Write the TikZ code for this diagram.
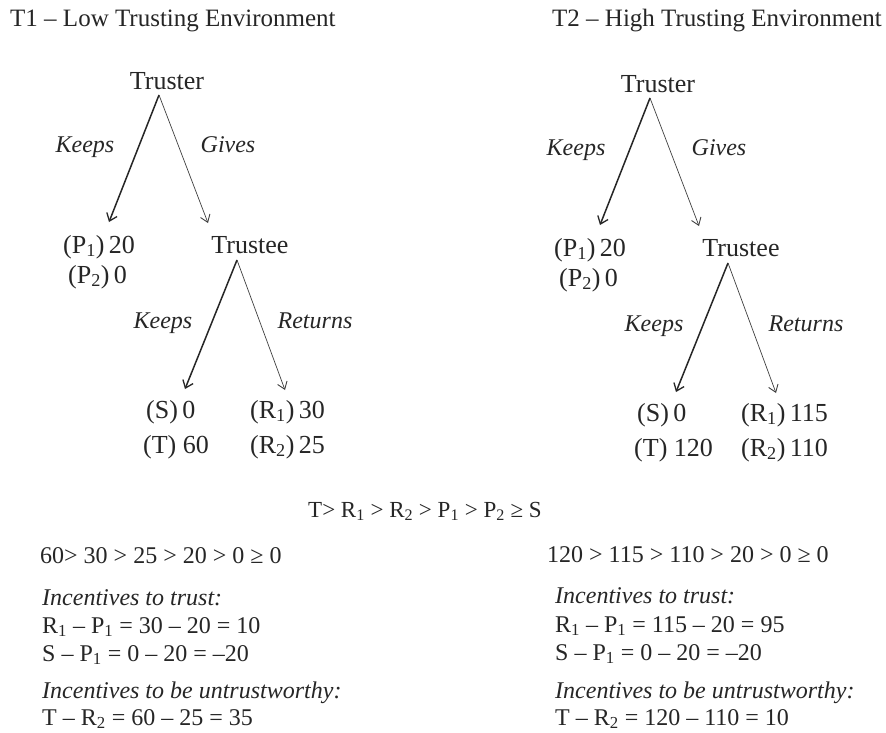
\documentclass[tikz,border=0pt]{standalone}
\usepackage{fontspec}
\setmainfont{Liberation Serif}
\usetikzlibrary{arrows.meta}

\newcommand\gamefont{\fontsize{24}{28}\selectfont}
\newcommand\treefont{\fontsize{26}{30}\selectfont}

\tikzset{
  lbl/.style = {inner sep=0pt, anchor=base, text=black!85, font=\treefont},
  pay/.style = {inner sep=0pt, anchor=base west, text=black!85, font=\gamefont},
  tpay/.style = {pay, font=\treefont},
  note/.style = {inner sep=0pt, anchor=base west, text=black!85, font=\gamefont\itshape},
  act/.style = {inner sep=0pt, anchor=base, text=black!85, font=\gamefont\itshape},
  keeparr/.style = {line width=1.5pt, black!85, -{Straight Barb[length=7pt,width=11pt,line width=1.3pt]}},
  givearr/.style = {line width=0.7pt, black!75, -{Straight Barb[length=7pt,width=10pt,line width=0.9pt]}}
}

\begin{document}
\begin{tikzpicture}[x=1pt, y=-1pt]
  \fill[white] (0,0) rectangle (886,732);
  \useasboundingbox (0,0) rectangle (886,732);

  % titles
  \node (titleL) [pay, font=\fontsize{25}{29}\selectfont] at (10,26) {T1 -- Low Trusting Environment};
  \node (titleR) [pay, font=\fontsize{25}{29}\selectfont] at (552,26) {T2 -- High Trusting Environment};

  % the two game trees
  \foreach \dx/\dy/\t/\pa/\pb/\sv/\tv/\ra/\rb in {0/0/L/20/0/0/60/30/25, 491/3/R/20/0/0/120/115/110} {
    \begin{scope}[shift={(\dx,\dy)}]
      \node (truster\t) [lbl] at (167,89) {Truster};
      \node (trustee\t) [lbl] at (250,253) {Trustee};
      \node (keepA\t) [act] at (85,152) {Keeps};
      \node (gives\t) [act] at (228,152) {Gives};
      \node (keepB\t) [act] at (163,328) {Keeps};
      \node (returns\t) [act] at (315,328) {Returns};
      \node (p1\t) [tpay] at (63,253) {(P\textsubscript{1})\,\pa};
      \node (p2\t) [tpay] at (68,283) {(P\textsubscript{2})\,\pb};
      \node (s\t) [tpay] at (146,418) {(S)\,\sv};
      \node (t\t) [tpay] at (143,453) {(T) \tv};
      \node (r1\t) [tpay] at (250,418) {(R\textsubscript{1})\,\ra};
      \node (r2\t) [tpay] at (250,453) {(R\textsubscript{2})\,\rb};
      \coordinate (tipK\t) at (109,222);
      \coordinate (tipG\t) at (208,223);
      \coordinate (tipS\t) at (185,389);
      \coordinate (tipR\t) at (285,390);
      \draw[keeparr] ([shift={(-8,6)}]truster\t.base) -- (tipK\t);
      \draw[givearr] ([shift={(-8,6)}]truster\t.base) -- (tipG\t);
      \draw[keeparr] ([shift={(-13,7)}]trustee\t.base) -- (tipS\t);
      \draw[givearr] ([shift={(-13,7)}]trustee\t.base) -- (tipR\t);
    \end{scope}
  }

  % ordering of payoffs
  \node (order) [lbl, font=\fontsize{23}{27}\selectfont] at (425,517) {T> R\textsubscript{1} > R\textsubscript{2} > P\textsubscript{1} > P\textsubscript{2} ≥ S};

  % low trusting environment
  \node (ordL) [pay] at (40,563) {60> 30 > 25 > 20 > 0 ≥ 0};
  \node (incTL) [note] at (42,605) {Incentives to trust:};
  \node (eqAL) [pay] at (42,633) {R\textsubscript{1} -- P\textsubscript{1} = 30 -- 20 = 10};
  \node (eqBL) [pay] at (42,661) {S -- P\textsubscript{1} = 0 -- 20 = --20};
  \node (incUL) [note] at (42,698) {Incentives to be untrustworthy:};
  \node (eqCL) [pay] at (42,725) {T -- R\textsubscript{2} = 60 -- 25 = 35};

  % high trusting environment
  \node (ordR) [pay] at (547,562) {120 > 115 > 110 > 20 > 0 ≥ 0};
  \node (incTR) [note] at (555,603) {Incentives to trust:};
  \node (eqAR) [pay] at (555,632) {R\textsubscript{1} -- P\textsubscript{1} = 115 -- 20 = 95};
  \node (eqBR) [pay] at (555,660) {S -- P\textsubscript{1} = 0 -- 20 = --20};
  \node (incUR) [note] at (555,698) {Incentives to be untrustworthy:};
  \node (eqCR) [pay] at (555,725) {T -- R\textsubscript{2} = 120 -- 110 = 10};
\end{tikzpicture}
\end{document}
